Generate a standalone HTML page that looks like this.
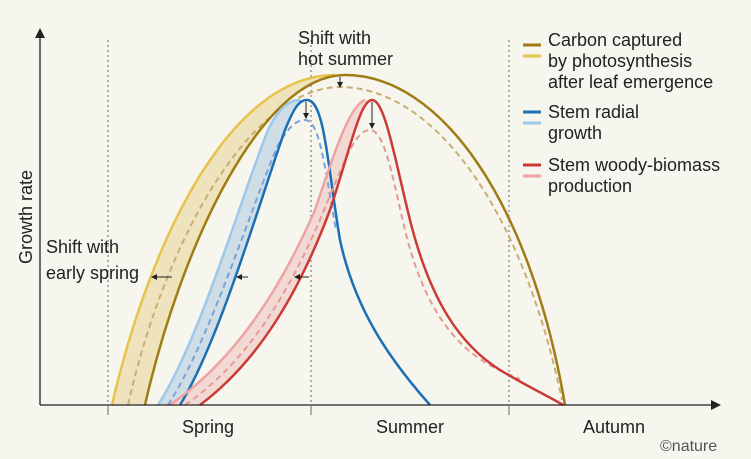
<!DOCTYPE html>
<html><head><style>
body{margin:0;background:#f6f5ee;}
svg{display:block;font-family:"Liberation Sans",sans-serif;}
</style></head><body>
<svg width="751" height="459" viewBox="0 0 751 459">
<defs><marker id="ah" markerWidth="6" markerHeight="6" refX="5" refY="3" orient="auto"><path d="M0,0 L6,3 L0,6 Z" fill="#222"/></marker></defs>
<rect width="751" height="459" fill="#f6f5ee"/>
<g stroke="#666" stroke-width="1" stroke-dasharray="2,3">
<line x1="108" y1="40" x2="108" y2="415"/><line x1="311" y1="40" x2="311" y2="415"/><line x1="509" y1="40" x2="509" y2="415"/></g>
<path d="M112 405 C150 240,230 75,335 75 L345 75 C260 75,180 250,145 405 Z" fill="#efe3bd"/>
<path d="M158 405 C200 340,240 200,268 130 C280 105,292 100,300 100 L307 100 C300 100,292 105,285 130 C260 200,220 340,180 405 Z" fill="#cfdde6"/>
<path d="M170 405 C235 360,280 290,315 210 C335 150,350 105,365 100 L372 100 C360 100,350 150,330 210 C300 290,260 360,200 405 Z" fill="#f3d9d4"/>
<g fill="none" stroke-width="2.5">
<path d="M112 405 C150 240,230 75,335 75" stroke="#e8c24a"/>
<path d="M128 405 C165 240,250 88,340 87 C430 87,520 200,562 400" stroke="#c9ae72" stroke-width="2" stroke-dasharray="6,4"/>
<path d="M145 405 C180 250,260 75,345 75 C440 75,530 200,565 405" stroke="#a07c14"/>
<path d="M158 405 C200 340,240 200,268 130 C280 105,292 100,300 100" stroke="#9dc8ea"/>
<path d="M168 405 C210 340,250 210,278 145 C290 125,297 120,305 120 C320 120,325 170,336 230" stroke="#7aa3d6" stroke-width="2" stroke-dasharray="6,4"/>
<path d="M180 405 C220 340,260 200,285 130 C295 105,300 100,307 100 C325 100,328 170,340 240 C355 310,390 360,430 405" stroke="#1a6fb5"/>
<path d="M170 405 C235 360,280 290,315 210 C335 150,350 105,365 100" stroke="#eea3a3"/>
<path d="M185 405 C250 360,290 290,322 215 C345 160,355 130,370 130 C385 130,393 180,405 230 C422 300,450 345,495 368 C505 373,512 376,520 379" stroke="#e49b90" stroke-width="2" stroke-dasharray="6,4"/>
<path d="M200 405 C260 360,300 290,330 210 C350 150,360 100,372 100 C385 100,395 160,410 220 C430 300,460 345,500 370 C530 388,550 397,563 405" stroke="#cc3a36"/>
</g>
<g stroke="#222" stroke-width="1" marker-end="url(#ah)">
<line x1="172" y1="277" x2="152" y2="277"/><line x1="248" y1="277" x2="237" y2="277"/><line x1="309" y1="277" x2="295" y2="277"/>
<line x1="340" y1="77" x2="340" y2="87"/><line x1="306" y1="102" x2="306" y2="118"/><line x1="372" y1="102" x2="372" y2="128"/>
</g>
<g stroke="#222" stroke-width="1.3" fill="none">
<line x1="40" y1="405" x2="715" y2="405"/><line x1="40" y1="405" x2="40" y2="35"/>
</g>
<path d="M721 405 L711 400 L711 410 Z M40 28 L35 38 L45 38 Z" fill="#222"/>
<g stroke="#666" stroke-width="1"><line x1="108" y1="405" x2="108" y2="415"/><line x1="311" y1="405" x2="311" y2="415"/><line x1="509" y1="405" x2="509" y2="415"/></g>
<g fill="#222" font-size="18">
<text transform="translate(32,217) rotate(-90)" text-anchor="middle">Growth rate</text>
<text x="46" y="253">Shift with</text><text x="46" y="279">early spring</text>
<text x="298" y="44">Shift with</text><text x="298" y="65">hot summer</text>
<text x="548" y="46">Carbon captured</text><text x="548" y="67">by photosynthesis</text><text x="548" y="88">after leaf emergence</text>
<text x="548" y="118">Stem radial</text><text x="548" y="139">growth</text>
<text x="548" y="171">Stem woody-biomass</text><text x="548" y="192">production</text>
<text x="208" y="433" text-anchor="middle">Spring</text><text x="410" y="433" text-anchor="middle">Summer</text><text x="614" y="433" text-anchor="middle">Autumn</text>
<text x="660" y="451" fill="#555" font-size="16">©nature</text>
</g>
<g stroke-width="3"><line x1="523" y1="45" x2="541" y2="45" stroke="#a07c14"/><line x1="523" y1="56" x2="541" y2="56" stroke="#e8c24a"/>
<line x1="523" y1="112" x2="541" y2="112" stroke="#1a6fb5"/><line x1="523" y1="123" x2="541" y2="123" stroke="#9dc8ea"/>
<line x1="523" y1="165" x2="541" y2="165" stroke="#cc3a36"/><line x1="523" y1="176" x2="541" y2="176" stroke="#eea3a3"/></g>
</svg>
</body></html>
